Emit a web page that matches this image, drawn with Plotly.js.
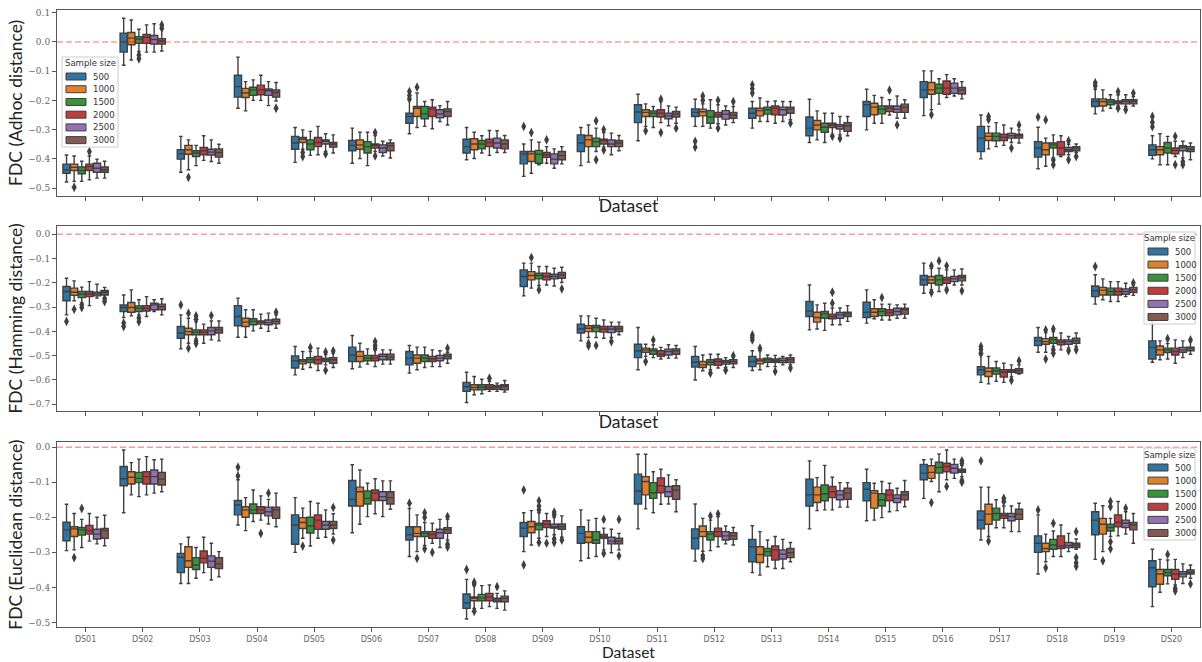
<!DOCTYPE html>
<html>
<head>
<meta charset="utf-8">
<script src="https://cdn.plot.ly/plotly-3.0.1.min.js"></script>
<style>html,body{margin:0;padding:0;background:#fff;}#chart{width:1202px;height:662px;}</style>
</head>
<body>
<div id="chart"></div>
<script>
// ---------------- DATA ----------------
const datasets = ['DS01','DS02','DS03','DS04','DS05','DS06','DS07','DS08','DS09','DS10',
                  'DS11','DS12','DS13','DS14','DS15','DS16','DS17','DS18','DS19','DS20'];
const sampleSizes = ['500','1000','1500','2000','2500','3000'];
const panelTitles = ['FDC (Adhoc distance)','FDC (Hamming distance)','FDC (Euclidean distance)'];
const xTitle = 'Dataset';
const legendTitle = 'Sample size';
const referenceValue = 0;

// each row: [lowerWhisker, q1, median, q3, upperWhisker] per dataset
const adhoc_500 = [[-0.479,-0.449,-0.437,-0.418,-0.387],[-0.080,-0.035,0.000,0.030,0.081],[-0.446,-0.401,-0.383,-0.369,-0.323],[-0.227,-0.189,-0.153,-0.114,-0.052],[-0.412,-0.367,-0.346,-0.323,-0.293],[-0.415,-0.372,-0.354,-0.337,-0.295],[-0.314,-0.278,-0.255,-0.244,-0.198],[-0.403,-0.380,-0.358,-0.333,-0.293],[-0.460,-0.417,-0.383,-0.375,-0.349],[-0.423,-0.375,-0.346,-0.318,-0.293],[-0.338,-0.276,-0.240,-0.215,-0.179],[-0.289,-0.255,-0.241,-0.229,-0.196],[-0.295,-0.261,-0.244,-0.227,-0.204],[-0.344,-0.321,-0.295,-0.257,-0.196],[-0.301,-0.255,-0.215,-0.204,-0.162],[-0.252,-0.190,-0.164,-0.136,-0.099],[-0.400,-0.375,-0.329,-0.289,-0.250],[-0.434,-0.394,-0.363,-0.341,-0.292],[-0.246,-0.221,-0.204,-0.195,-0.162],[-0.400,-0.388,-0.369,-0.352,-0.321]];
const adhoc_1000 = [[-0.477,-0.440,-0.429,-0.418,-0.390],[-0.062,-0.010,0.013,0.032,0.075],[-0.437,-0.384,-0.369,-0.354,-0.335],[-0.236,-0.190,-0.175,-0.159,-0.136],[-0.367,-0.344,-0.333,-0.327,-0.301],[-0.399,-0.367,-0.352,-0.335,-0.309],[-0.293,-0.255,-0.227,-0.221,-0.175],[-0.399,-0.369,-0.349,-0.331,-0.309],[-0.449,-0.409,-0.383,-0.375,-0.335],[-0.411,-0.358,-0.335,-0.320,-0.284],[-0.289,-0.255,-0.241,-0.232,-0.212],[-0.289,-0.253,-0.239,-0.230,-0.212],[-0.272,-0.253,-0.235,-0.227,-0.192],[-0.335,-0.301,-0.284,-0.269,-0.236],[-0.278,-0.249,-0.223,-0.210,-0.183],[-0.232,-0.179,-0.164,-0.139,-0.099],[-0.366,-0.337,-0.323,-0.312,-0.289],[-0.425,-0.386,-0.369,-0.346,-0.329],[-0.236,-0.219,-0.204,-0.195,-0.164],[-0.420,-0.386,-0.369,-0.358,-0.314]];
const adhoc_1500 = [[-0.477,-0.451,-0.440,-0.428,-0.408],[-0.033,-0.005,0.010,0.018,0.043],[-0.423,-0.392,-0.380,-0.372,-0.354],[-0.200,-0.183,-0.164,-0.155,-0.130],[-0.388,-0.369,-0.349,-0.335,-0.306],[-0.423,-0.380,-0.358,-0.341,-0.309],[-0.289,-0.263,-0.246,-0.221,-0.204],[-0.380,-0.366,-0.349,-0.337,-0.321],[-0.420,-0.415,-0.384,-0.371,-0.343],[-0.375,-0.358,-0.341,-0.329,-0.295],[-0.293,-0.255,-0.244,-0.236,-0.221],[-0.295,-0.278,-0.257,-0.235,-0.198],[-0.272,-0.247,-0.232,-0.223,-0.204],[-0.344,-0.309,-0.292,-0.278,-0.244],[-0.278,-0.246,-0.230,-0.219,-0.190],[-0.213,-0.176,-0.158,-0.145,-0.126],[-0.358,-0.338,-0.323,-0.312,-0.276],[-0.397,-0.363,-0.352,-0.346,-0.318],[-0.227,-0.215,-0.206,-0.198,-0.181],[-0.420,-0.380,-0.363,-0.344,-0.323]];
const adhoc_2000 = [[-0.472,-0.440,-0.426,-0.418,-0.390],[-0.035,-0.005,0.016,0.025,0.058],[-0.405,-0.386,-0.372,-0.361,-0.321],[-0.200,-0.181,-0.164,-0.148,-0.114],[-0.386,-0.358,-0.344,-0.327,-0.289],[-0.375,-0.363,-0.354,-0.349,-0.320],[-0.297,-0.255,-0.230,-0.223,-0.198],[-0.388,-0.358,-0.344,-0.333,-0.303],[-0.415,-0.395,-0.386,-0.378,-0.358],[-0.360,-0.349,-0.337,-0.333,-0.310],[-0.276,-0.257,-0.244,-0.232,-0.204],[-0.280,-0.257,-0.249,-0.241,-0.215],[-0.278,-0.249,-0.227,-0.219,-0.202],[-0.318,-0.293,-0.284,-0.278,-0.244],[-0.250,-0.238,-0.227,-0.219,-0.198],[-0.190,-0.179,-0.158,-0.134,-0.112],[-0.354,-0.337,-0.326,-0.316,-0.284],[-0.392,-0.386,-0.363,-0.341,-0.321],[-0.219,-0.212,-0.206,-0.202,-0.181],[-0.392,-0.383,-0.371,-0.363,-0.340]];
const adhoc_2500 = [[-0.466,-0.446,-0.432,-0.415,-0.401],[-0.035,-0.007,0.008,0.022,0.062],[-0.409,-0.387,-0.377,-0.367,-0.335],[-0.218,-0.183,-0.167,-0.161,-0.136],[-0.375,-0.349,-0.340,-0.335,-0.314],[-0.390,-0.378,-0.363,-0.352,-0.340],[-0.272,-0.260,-0.246,-0.232,-0.218],[-0.378,-0.363,-0.346,-0.329,-0.304],[-0.432,-0.417,-0.401,-0.383,-0.366],[-0.386,-0.358,-0.349,-0.335,-0.312],[-0.287,-0.263,-0.253,-0.244,-0.219],[-0.284,-0.264,-0.247,-0.235,-0.219],[-0.272,-0.250,-0.232,-0.223,-0.204],[-0.318,-0.298,-0.289,-0.283,-0.255],[-0.261,-0.241,-0.230,-0.219,-0.185],[-0.185,-0.176,-0.158,-0.141,-0.126],[-0.344,-0.329,-0.321,-0.313,-0.295],[-0.386,-0.375,-0.369,-0.361,-0.350],[-0.221,-0.212,-0.204,-0.198,-0.181],[-0.397,-0.372,-0.361,-0.355,-0.340]];
const adhoc_3000 = [[-0.466,-0.446,-0.437,-0.428,-0.408],[-0.031,-0.007,0.003,0.011,0.043],[-0.415,-0.394,-0.378,-0.366,-0.350],[-0.202,-0.189,-0.173,-0.164,-0.139],[-0.380,-0.360,-0.350,-0.344,-0.318],[-0.397,-0.372,-0.355,-0.346,-0.335],[-0.284,-0.255,-0.238,-0.229,-0.204],[-0.378,-0.366,-0.349,-0.335,-0.320],[-0.417,-0.403,-0.389,-0.375,-0.358],[-0.372,-0.358,-0.346,-0.337,-0.320],[-0.278,-0.257,-0.246,-0.238,-0.223],[-0.276,-0.261,-0.250,-0.241,-0.221],[-0.266,-0.244,-0.230,-0.223,-0.204],[-0.321,-0.306,-0.287,-0.276,-0.255],[-0.261,-0.241,-0.223,-0.213,-0.198],[-0.195,-0.178,-0.164,-0.156,-0.136],[-0.346,-0.329,-0.321,-0.316,-0.301],[-0.378,-0.372,-0.364,-0.358,-0.349],[-0.219,-0.212,-0.204,-0.198,-0.187],[-0.403,-0.375,-0.367,-0.358,-0.346]];
// outliers: [datasetIndex, sampleSizeIndex, value]
const adhocOutliers = [[0,1,-0.497],[0,3,-0.375],[1,2,-0.045],[1,2,-0.058],[1,5,0.047],[1,5,0.058],[2,1,-0.463],[3,5,-0.227],[4,1,-0.378],[4,1,-0.392],[4,4,-0.383],[5,3,-0.31],[5,3,-0.39],[6,0,-0.17],[6,0,-0.183],[6,0,-0.195],[6,1,-0.155],[8,0,-0.289],[8,1,-0.31],[8,3,-0.335],[9,2,-0.27],[9,2,-0.403],[9,3,-0.3],[9,3,-0.37],[10,1,-0.304],[10,3,-0.196],[10,3,-0.31],[10,5,-0.295],[11,0,-0.34],[11,0,-0.36],[11,1,-0.185],[11,1,-0.2],[11,3,-0.2],[11,3,-0.295],[11,5,-0.204],[12,0,-0.147],[12,0,-0.16],[12,0,-0.175],[12,5,-0.278],[13,3,-0.323],[13,4,-0.33],[14,3,-0.165],[14,4,-0.284],[15,1,-0.249],[16,1,-0.255],[16,1,-0.265],[16,4,-0.363],[16,5,-0.284],[17,0,-0.257],[17,1,-0.267],[17,2,-0.404],[17,2,-0.42],[17,4,-0.338],[17,4,-0.403],[17,5,-0.392],[18,0,-0.14],[18,0,-0.15],[18,3,-0.17],[18,3,-0.227],[18,4,-0.232],[18,5,-0.175],[19,0,-0.255],[19,0,-0.275],[19,0,-0.29],[19,3,-0.323],[19,3,-0.42],[19,4,-0.41],[19,4,-0.42]];

const hamming_500 = [[-0.332,-0.274,-0.236,-0.215,-0.181],[-0.343,-0.318,-0.302,-0.291,-0.250],[-0.472,-0.428,-0.407,-0.380,-0.332],[-0.424,-0.377,-0.339,-0.294,-0.263],[-0.579,-0.551,-0.521,-0.501,-0.462],[-0.554,-0.524,-0.497,-0.465,-0.417],[-0.572,-0.538,-0.510,-0.483,-0.458],[-0.693,-0.647,-0.627,-0.610,-0.568],[-0.254,-0.215,-0.174,-0.147,-0.119],[-0.439,-0.407,-0.390,-0.370,-0.336],[-0.558,-0.508,-0.480,-0.453,-0.384],[-0.600,-0.547,-0.527,-0.503,-0.462],[-0.561,-0.545,-0.524,-0.503,-0.480],[-0.394,-0.339,-0.316,-0.277,-0.209],[-0.366,-0.343,-0.321,-0.280,-0.229],[-0.243,-0.209,-0.188,-0.170,-0.119],[-0.610,-0.579,-0.558,-0.545,-0.497],[-0.486,-0.458,-0.439,-0.425,-0.384],[-0.288,-0.257,-0.233,-0.213,-0.167],[-0.527,-0.514,-0.466,-0.439,-0.359]];
const hamming_1000 = [[-0.274,-0.252,-0.239,-0.222,-0.192],[-0.336,-0.321,-0.302,-0.281,-0.229],[-0.449,-0.414,-0.401,-0.387,-0.346],[-0.424,-0.380,-0.362,-0.346,-0.311],[-0.556,-0.534,-0.524,-0.517,-0.483],[-0.547,-0.524,-0.503,-0.483,-0.449],[-0.558,-0.531,-0.510,-0.497,-0.465],[-0.661,-0.641,-0.631,-0.620,-0.586],[-0.222,-0.188,-0.170,-0.154,-0.119],[-0.425,-0.401,-0.387,-0.377,-0.336],[-0.503,-0.486,-0.476,-0.469,-0.453],[-0.562,-0.549,-0.538,-0.524,-0.497],[-0.558,-0.534,-0.521,-0.514,-0.480],[-0.390,-0.362,-0.343,-0.321,-0.291],[-0.348,-0.339,-0.321,-0.307,-0.270],[-0.229,-0.202,-0.188,-0.174,-0.140],[-0.616,-0.586,-0.565,-0.551,-0.503],[-0.486,-0.453,-0.442,-0.430,-0.405],[-0.270,-0.250,-0.230,-0.219,-0.184],[-0.517,-0.497,-0.476,-0.460,-0.439]];
const hamming_1500 = [[-0.284,-0.261,-0.247,-0.236,-0.218],[-0.332,-0.318,-0.305,-0.295,-0.270],[-0.430,-0.414,-0.403,-0.394,-0.360],[-0.398,-0.373,-0.359,-0.348,-0.311],[-0.549,-0.528,-0.517,-0.508,-0.483],[-0.535,-0.521,-0.510,-0.499,-0.472],[-0.549,-0.524,-0.510,-0.497,-0.465],[-0.657,-0.641,-0.630,-0.620,-0.597],[-0.211,-0.184,-0.170,-0.160,-0.133],[-0.425,-0.401,-0.384,-0.376,-0.346],[-0.508,-0.494,-0.480,-0.472,-0.455],[-0.558,-0.538,-0.527,-0.517,-0.494],[-0.545,-0.527,-0.517,-0.510,-0.497],[-0.396,-0.346,-0.328,-0.318,-0.284],[-0.353,-0.335,-0.318,-0.307,-0.288],[-0.236,-0.209,-0.188,-0.170,-0.140],[-0.606,-0.576,-0.562,-0.551,-0.524],[-0.462,-0.449,-0.435,-0.425,-0.401],[-0.277,-0.250,-0.236,-0.222,-0.195],[-0.514,-0.487,-0.476,-0.469,-0.450]];
const hamming_2000 = [[-0.294,-0.257,-0.246,-0.236,-0.195],[-0.339,-0.316,-0.305,-0.294,-0.257],[-0.449,-0.414,-0.403,-0.394,-0.370],[-0.387,-0.370,-0.362,-0.357,-0.329],[-0.561,-0.534,-0.517,-0.503,-0.469],[-0.545,-0.521,-0.510,-0.499,-0.476],[-0.545,-0.524,-0.513,-0.503,-0.476],[-0.647,-0.638,-0.630,-0.620,-0.606],[-0.209,-0.188,-0.174,-0.160,-0.133],[-0.428,-0.403,-0.390,-0.380,-0.353],[-0.514,-0.503,-0.494,-0.480,-0.466],[-0.551,-0.540,-0.524,-0.514,-0.494],[-0.545,-0.527,-0.521,-0.514,-0.499],[-0.373,-0.348,-0.339,-0.329,-0.304],[-0.353,-0.335,-0.322,-0.311,-0.288],[-0.222,-0.202,-0.188,-0.178,-0.147],[-0.610,-0.588,-0.568,-0.558,-0.531],[-0.476,-0.455,-0.444,-0.435,-0.407],[-0.277,-0.250,-0.236,-0.222,-0.195],[-0.531,-0.497,-0.483,-0.469,-0.435]];
const hamming_2500 = [[-0.263,-0.254,-0.246,-0.239,-0.206],[-0.318,-0.311,-0.291,-0.284,-0.270],[-0.435,-0.414,-0.398,-0.384,-0.357],[-0.400,-0.373,-0.364,-0.353,-0.325],[-0.538,-0.524,-0.517,-0.510,-0.495],[-0.535,-0.517,-0.503,-0.494,-0.476],[-0.545,-0.521,-0.510,-0.499,-0.480],[-0.647,-0.638,-0.630,-0.623,-0.613],[-0.213,-0.184,-0.174,-0.165,-0.140],[-0.425,-0.405,-0.390,-0.380,-0.362],[-0.510,-0.497,-0.483,-0.473,-0.455],[-0.549,-0.535,-0.527,-0.520,-0.508],[-0.538,-0.528,-0.520,-0.510,-0.503],[-0.373,-0.346,-0.332,-0.322,-0.304],[-0.346,-0.332,-0.318,-0.305,-0.291],[-0.209,-0.195,-0.184,-0.174,-0.147],[-0.588,-0.568,-0.562,-0.558,-0.538],[-0.469,-0.453,-0.442,-0.435,-0.421],[-0.257,-0.247,-0.236,-0.225,-0.202],[-0.508,-0.486,-0.476,-0.466,-0.439]];
const hamming_3000 = [[-0.261,-0.250,-0.239,-0.232,-0.219],[-0.332,-0.311,-0.298,-0.288,-0.266],[-0.439,-0.407,-0.394,-0.384,-0.357],[-0.387,-0.369,-0.359,-0.350,-0.332],[-0.549,-0.531,-0.517,-0.508,-0.490],[-0.535,-0.517,-0.506,-0.494,-0.476],[-0.531,-0.513,-0.503,-0.494,-0.486],[-0.650,-0.641,-0.627,-0.620,-0.602],[-0.199,-0.181,-0.167,-0.157,-0.136],[-0.414,-0.401,-0.390,-0.380,-0.362],[-0.510,-0.494,-0.480,-0.472,-0.458],[-0.549,-0.534,-0.525,-0.517,-0.508],[-0.538,-0.528,-0.517,-0.508,-0.497],[-0.359,-0.339,-0.328,-0.321,-0.294],[-0.346,-0.329,-0.311,-0.305,-0.288],[-0.209,-0.192,-0.178,-0.170,-0.143],[-0.576,-0.572,-0.562,-0.554,-0.538],[-0.462,-0.449,-0.438,-0.428,-0.407],[-0.252,-0.240,-0.229,-0.219,-0.209],[-0.494,-0.480,-0.469,-0.465,-0.442]];
const hammingOutliers = [[0,0,-0.359],[0,1,-0.309],[0,2,-0.29],[0,2,-0.302],[0,5,-0.266],[0,5,-0.277],[1,0,-0.366],[1,0,-0.38],[1,2,-0.345],[1,2,-0.36],[2,0,-0.291],[2,1,-0.325],[2,1,-0.469],[2,2,-0.336],[2,2,-0.35],[2,2,-0.44],[2,2,-0.45],[2,4,-0.335],[3,5,-0.321],[4,2,-0.466],[4,4,-0.485],[4,4,-0.56],[4,5,-0.48],[5,3,-0.442],[5,3,-0.458],[5,3,-0.47],[6,5,-0.469],[7,3,-0.593],[8,1,-0.096],[8,2,-0.229],[8,5,-0.225],[9,1,-0.45],[9,1,-0.46],[9,2,-0.458],[9,4,-0.442],[10,1,-0.524],[10,2,-0.435],[11,2,-0.572],[11,4,-0.56],[11,5,-0.5],[12,0,-0.415],[12,0,-0.425],[12,0,-0.435],[12,1,-0.469],[12,3,-0.565],[12,5,-0.551],[13,3,-0.239],[13,3,-0.284],[14,2,-0.261],[15,1,-0.13],[15,1,-0.24],[15,2,-0.11],[15,3,-0.13],[15,3,-0.23],[15,5,-0.233],[16,0,-0.462],[16,0,-0.475],[16,0,-0.49],[16,4,-0.602],[16,5,-0.521],[17,1,-0.394],[17,1,-0.514],[17,2,-0.39],[17,2,-0.476],[17,2,-0.49],[17,4,-0.48],[17,5,-0.476],[18,0,-0.133],[18,5,-0.2],[19,2,-0.43],[19,5,-0.435]];

const euclid_500 = [[-0.295,-0.267,-0.236,-0.214,-0.163],[-0.187,-0.110,-0.090,-0.055,-0.008],[-0.389,-0.358,-0.314,-0.303,-0.276],[-0.222,-0.193,-0.165,-0.152,-0.093],[-0.300,-0.277,-0.222,-0.193,-0.144],[-0.244,-0.168,-0.149,-0.095,-0.050],[-0.312,-0.265,-0.250,-0.227,-0.175],[-0.490,-0.460,-0.444,-0.419,-0.377],[-0.298,-0.255,-0.231,-0.215,-0.187],[-0.324,-0.274,-0.246,-0.227,-0.179],[-0.233,-0.162,-0.125,-0.077,-0.020],[-0.325,-0.290,-0.260,-0.233,-0.162],[-0.358,-0.327,-0.284,-0.263,-0.224],[-0.233,-0.168,-0.136,-0.091,-0.039],[-0.210,-0.153,-0.120,-0.101,-0.063],[-0.146,-0.093,-0.074,-0.049,-0.036],[-0.265,-0.233,-0.208,-0.182,-0.114],[-0.362,-0.300,-0.274,-0.253,-0.193],[-0.320,-0.250,-0.208,-0.184,-0.160],[-0.455,-0.398,-0.344,-0.324,-0.291]];
const euclid_1000 = [[-0.293,-0.255,-0.233,-0.227,-0.189],[-0.136,-0.105,-0.086,-0.070,-0.044],[-0.389,-0.343,-0.324,-0.284,-0.257],[-0.238,-0.200,-0.179,-0.170,-0.144],[-0.260,-0.232,-0.215,-0.201,-0.174],[-0.220,-0.168,-0.127,-0.114,-0.065],[-0.298,-0.255,-0.246,-0.227,-0.193],[-0.460,-0.438,-0.431,-0.427,-0.395],[-0.279,-0.244,-0.227,-0.212,-0.181],[-0.317,-0.272,-0.257,-0.241,-0.208],[-0.176,-0.136,-0.098,-0.084,-0.020],[-0.297,-0.255,-0.241,-0.225,-0.203],[-0.365,-0.329,-0.306,-0.284,-0.241],[-0.181,-0.158,-0.136,-0.114,-0.087],[-0.208,-0.174,-0.131,-0.124,-0.103],[-0.098,-0.089,-0.072,-0.053,-0.034],[-0.255,-0.220,-0.191,-0.163,-0.114],[-0.327,-0.298,-0.289,-0.274,-0.248],[-0.298,-0.248,-0.220,-0.203,-0.167],[-0.414,-0.391,-0.362,-0.349,-0.320]];
const euclid_1500 = [[-0.286,-0.251,-0.236,-0.229,-0.206],[-0.141,-0.101,-0.089,-0.072,-0.034],[-0.374,-0.349,-0.336,-0.315,-0.286],[-0.212,-0.189,-0.179,-0.162,-0.122],[-0.282,-0.245,-0.225,-0.200,-0.155],[-0.198,-0.162,-0.146,-0.125,-0.103],[-0.280,-0.255,-0.246,-0.241,-0.215],[-0.460,-0.438,-0.430,-0.420,-0.395],[-0.260,-0.236,-0.222,-0.217,-0.187],[-0.312,-0.274,-0.265,-0.241,-0.203],[-0.187,-0.146,-0.130,-0.101,-0.070],[-0.295,-0.265,-0.248,-0.241,-0.208],[-0.341,-0.310,-0.298,-0.289,-0.265],[-0.179,-0.153,-0.133,-0.108,-0.052],[-0.201,-0.168,-0.150,-0.133,-0.098],[-0.127,-0.074,-0.058,-0.043,-0.019],[-0.230,-0.208,-0.189,-0.174,-0.150],[-0.312,-0.291,-0.279,-0.263,-0.239],[-0.255,-0.239,-0.229,-0.220,-0.203],[-0.390,-0.367,-0.358,-0.349,-0.322]];
const euclid_2000 = [[-0.268,-0.248,-0.238,-0.223,-0.189],[-0.136,-0.105,-0.084,-0.070,-0.027],[-0.358,-0.330,-0.317,-0.296,-0.257],[-0.208,-0.189,-0.179,-0.170,-0.139],[-0.260,-0.234,-0.208,-0.193,-0.160],[-0.190,-0.152,-0.131,-0.122,-0.090],[-0.274,-0.260,-0.249,-0.241,-0.217],[-0.455,-0.438,-0.427,-0.417,-0.393],[-0.255,-0.229,-0.220,-0.210,-0.189],[-0.293,-0.260,-0.255,-0.249,-0.231],[-0.163,-0.130,-0.110,-0.088,-0.063],[-0.284,-0.255,-0.241,-0.231,-0.198],[-0.346,-0.322,-0.293,-0.282,-0.255],[-0.179,-0.144,-0.127,-0.112,-0.086],[-0.184,-0.153,-0.136,-0.122,-0.103],[-0.093,-0.070,-0.055,-0.046,-0.008],[-0.230,-0.203,-0.195,-0.189,-0.168],[-0.312,-0.289,-0.282,-0.253,-0.222],[-0.253,-0.227,-0.215,-0.193,-0.155],[-0.393,-0.377,-0.362,-0.349,-0.320]];
const euclid_2500 = [[-0.276,-0.262,-0.248,-0.234,-0.200],[-0.131,-0.105,-0.084,-0.065,-0.036],[-0.379,-0.343,-0.325,-0.310,-0.274],[-0.219,-0.196,-0.184,-0.171,-0.149],[-0.257,-0.234,-0.222,-0.212,-0.179],[-0.198,-0.152,-0.141,-0.127,-0.096],[-0.286,-0.260,-0.244,-0.234,-0.206],[-0.460,-0.441,-0.436,-0.431,-0.417],[-0.250,-0.231,-0.227,-0.220,-0.200],[-0.301,-0.276,-0.268,-0.257,-0.234],[-0.162,-0.141,-0.127,-0.112,-0.079],[-0.276,-0.265,-0.253,-0.241,-0.225],[-0.346,-0.319,-0.305,-0.293,-0.263],[-0.171,-0.150,-0.136,-0.124,-0.101],[-0.181,-0.158,-0.146,-0.136,-0.117],[-0.089,-0.074,-0.060,-0.049,-0.034],[-0.241,-0.210,-0.198,-0.189,-0.168],[-0.298,-0.286,-0.280,-0.272,-0.246],[-0.248,-0.229,-0.217,-0.208,-0.184],[-0.389,-0.370,-0.362,-0.355,-0.333]];
const euclid_3000 = [[-0.281,-0.260,-0.238,-0.232,-0.194],[-0.127,-0.108,-0.091,-0.072,-0.034],[-0.370,-0.346,-0.333,-0.315,-0.298],[-0.227,-0.203,-0.179,-0.171,-0.131],[-0.248,-0.232,-0.222,-0.212,-0.190],[-0.177,-0.162,-0.144,-0.127,-0.096],[-0.265,-0.246,-0.236,-0.230,-0.206],[-0.465,-0.441,-0.431,-0.425,-0.410],[-0.257,-0.234,-0.227,-0.219,-0.196],[-0.293,-0.276,-0.268,-0.260,-0.246],[-0.184,-0.149,-0.122,-0.110,-0.093],[-0.279,-0.263,-0.253,-0.244,-0.229],[-0.327,-0.315,-0.301,-0.289,-0.272],[-0.171,-0.149,-0.131,-0.117,-0.101],[-0.170,-0.150,-0.136,-0.127,-0.095],[-0.084,-0.072,-0.068,-0.063,-0.052],[-0.241,-0.206,-0.191,-0.177,-0.160],[-0.291,-0.286,-0.279,-0.274,-0.262],[-0.274,-0.236,-0.222,-0.215,-0.189],[-0.374,-0.362,-0.357,-0.350,-0.336]];
const euclidOutliers = [[0,1,-0.315],[0,2,-0.175],[3,0,-0.057],[3,0,-0.082],[3,3,-0.246],[3,4,-0.131],[4,1,-0.282],[4,5,-0.172],[4,5,-0.265],[6,0,-0.16],[6,1,-0.317],[6,2,-0.187],[6,2,-0.2],[6,2,-0.29],[6,3,-0.3],[6,5,-0.198],[6,5,-0.277],[6,5,-0.285],[7,0,-0.349],[7,1,-0.385],[7,1,-0.39],[7,1,-0.468],[7,4,-0.398],[8,0,-0.122],[8,0,-0.336],[8,2,-0.153],[8,2,-0.168],[8,2,-0.179],[8,2,-0.272],[8,3,-0.274],[8,4,-0.185],[8,4,-0.193],[8,4,-0.262],[8,4,-0.272],[8,5,-0.265],[9,3,-0.206],[9,3,-0.303],[9,5,-0.206],[9,5,-0.31],[11,1,-0.31],[11,1,-0.318],[11,2,-0.196],[11,3,-0.19],[15,1,-0.158],[15,3,-0.112],[15,5,-0.039],[15,5,-0.046],[15,5,-0.095],[15,5,-0.1],[16,0,-0.039],[16,1,-0.268],[16,3,-0.146],[16,3,-0.155],[17,0,-0.179],[17,1,-0.344],[17,2,-0.217],[17,5,-0.241],[17,5,-0.315],[17,5,-0.33],[17,5,-0.34],[18,1,-0.324],[18,2,-0.155],[18,2,-0.17],[18,2,-0.27],[18,2,-0.29],[18,4,-0.174],[19,2,-0.306],[19,3,-0.403],[19,3,-0.41],[19,5,-0.39]];

// ---------------- STYLE / BUILD ----------------
const W = 1202, H = 662;
const M = {l:57, r:2, t:10, b:35};
const boxColors = ['#3274a1','#e1812c','#3a923a','#c03d3e','#9372b2','#845b53'];
const edgeColor = '#3f3f3f';
const GROUP_WIDTH = 0.8, BOX_SHRINK = 0.94;

const panels = [
  {stats:[adhoc_500,adhoc_1000,adhoc_1500,adhoc_2000,adhoc_2500,adhoc_3000], outliers:adhocOutliers, xa:'x', ya:'y', legendPx:{left:62, top:57, w:56, h:90}},
  {stats:[hamming_500,hamming_1000,hamming_1500,hamming_2000,hamming_2500,hamming_3000], outliers:hammingOutliers, xa:'x2', ya:'y2', legendPx:{left:1144, top:232, w:51, h:92}},
  {stats:[euclid_500,euclid_1000,euclid_1500,euclid_2000,euclid_2500,euclid_3000], outliers:euclidOutliers, xa:'x3', ya:'y3', legendPx:{left:1144, top:448, w:51, h:92}}
];

const positions = datasets.map((d,i)=>i);
const nSizes = sampleSizes.length;
const slot = GROUP_WIDTH / nSizes;
function dodge(sizeIdx){ return -GROUP_WIDTH/2 + slot*(sizeIdx + 0.5); }

const traces = [];
panels.forEach(p=>{
  sampleSizes.forEach((s,si)=>{
    const st = p.stats[si];
    traces.push({
      type:'box', name:s, showlegend:false,
      xaxis:p.xa, yaxis:p.ya,
      x:positions.map(v=>v+dodge(si)), width:slot*BOX_SHRINK,
      lowerfence:st.map(r=>r[0]), q1:st.map(r=>r[1]), median:st.map(r=>r[2]),
      q3:st.map(r=>r[3]), upperfence:st.map(r=>r[4]),
      boxpoints:false, fillcolor:boxColors[si],
      line:{color:edgeColor, width:1.4}, whiskerwidth:0.5,
      hoverinfo:'skip'
    });
  });
  traces.push({
    type:'scatter', mode:'markers', showlegend:false, xaxis:p.xa, yaxis:p.ya,
    x:p.outliers.map(o=>o[0]+dodge(o[1])), y:p.outliers.map(o=>o[2]),
    marker:{symbol:'diamond-tall', size:7, color:edgeColor, line:{width:0}},
    hoverinfo:'skip'
  });
});

const tickFontY = {family:'DejaVu Serif', size:9, color:'#666'};
const tickFontX = {family:'DejaVu Sans', size:8, color:'#666'};
const titleFontY = {family:'Lato, DejaVu Sans', size:17.5, color:'#222'};
const titleFontX = {family:'Lato, DejaVu Sans', size:17.5, color:'#222'};
const bottomTitleFont = {family:'Lato, DejaVu Sans', size:15.5, color:'#222'};
const legendFont = {family:'DejaVu Sans', size:8.5, color:'#333'};

function xAxis(anchor, showLabels){
  const ax = {anchor:anchor, domain:[0,1], range:[-0.5,19.5], tickvals:positions, ticktext:datasets,
    showticklabels:showLabels, tickfont:tickFontX, ticks:'outside', ticklen:4, tickcolor:'#555',
    showline:true, mirror:true, linecolor:'#555', linewidth:1, showgrid:false, zeroline:false,
    automargin:false};
  if(!showLabels) ax.title = {text:xTitle, font:titleFontX, standoff:0};
  return ax;
}
function yAxis(anchor, domain, range, title){
  return {anchor:anchor, domain:domain, range:range, dtick:0.1, tick0:0, tickformat:'.1f',
    tickfont:tickFontY, ticks:'outside', ticklen:4, tickcolor:'#555',
    showline:true, mirror:true, linecolor:'#555', linewidth:1, showgrid:false, zeroline:false,
    automargin:false, title:{text:title, font:titleFontY, standoff:1}};
}

// pixel -> paper conversion for the hand-built legends / bottom title
const plotW = W - M.l - M.r, plotH = H - M.t - M.b;
const px = v => (v - M.l) / plotW;
const py = v => (H - M.b - v) / plotH;

const shapes = ['y','y2','y3'].map((ya,i)=>({type:'line', xref:['x','x2','x3'][i]+' domain', x0:0, x1:1,
    yref:ya, y0:referenceValue, y1:referenceValue, layer:'above',
    line:{color:'rgba(255,0,0,0.4)', width:1.5, dash:'6px,3px'}}));
const annotations = [];

// bottom axis title placed under the tick labels
annotations.push({xref:'paper', yref:'paper', x:0.5, y:py(662), xanchor:'center', yanchor:'bottom',
  borderpad:0, showarrow:false, text:xTitle, font:bottomTitleFont});

panels.forEach(p=>{
  const L = p.legendPx;
  shapes.push({type:'rect', xref:'paper', yref:'paper', layer:'above',
    x0:px(L.left), x1:px(L.left+L.w), y0:py(L.top), y1:py(L.top+L.h),
    fillcolor:'rgba(255,255,255,0.85)', line:{color:'#cccccc', width:1}});
  annotations.push({xref:'paper', yref:'paper', x:px(L.left+L.w/2), y:py(L.top+6.5),
    xanchor:'center', yanchor:'middle', showarrow:false, text:legendTitle, font:legendFont});
  const step = (L.h - 20) / (nSizes - 0.5);
  sampleSizes.forEach((s,si)=>{
    const cy = L.top + 19.5 + si*step;
    shapes.push({type:'rect', xref:'paper', yref:'paper', layer:'above',
      x0:px(L.left+4), x1:px(L.left+24), y0:py(cy+3.5), y1:py(cy-3.5),
      fillcolor:boxColors[si], line:{color:edgeColor, width:1}});
    annotations.push({xref:'paper', yref:'paper', x:px(L.left+29), y:py(cy),
      xanchor:'left', yanchor:'middle', showarrow:false, text:s, font:legendFont});
  });
});

const layout = {
  width:W, height:H, margin:M,
  paper_bgcolor:'#fff', plot_bgcolor:'#fff', showlegend:false,
  boxmode:'overlay',
  xaxis:xAxis('y', false), xaxis2:xAxis('y2', false), xaxis3:xAxis('y3', true),
  yaxis:yAxis('x', [0.699,1.0], [-0.526,0.109], panelTitles[0]),
  yaxis2:yAxis('x2', [0.350,0.650], [-0.728,0.034], panelTitles[1]),
  yaxis3:yAxis('x3', [0.0,0.2994], [-0.513,0.014], panelTitles[2]),
  shapes:shapes, annotations:annotations
};

Plotly.newPlot('chart', traces, layout, {displayModeBar:false, staticPlot:true});
</script>
</body>
</html>
